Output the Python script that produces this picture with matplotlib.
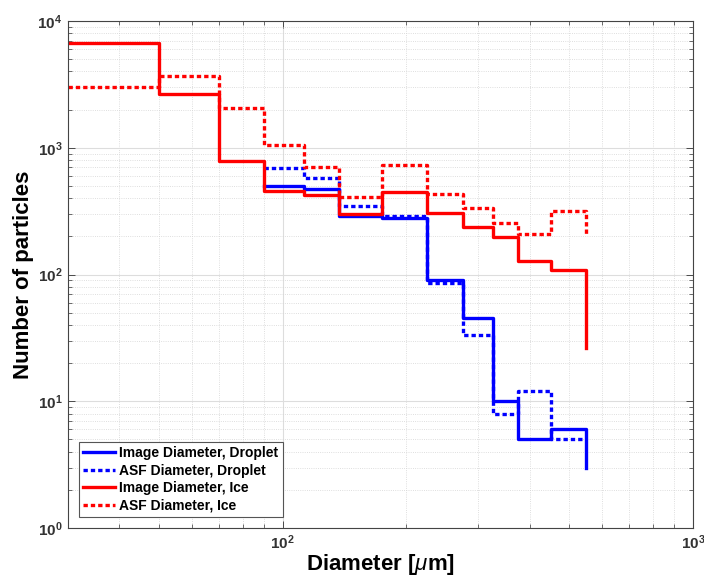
import numpy as np
import matplotlib
matplotlib.use("Agg")
import matplotlib.pyplot as plt
from matplotlib.ticker import LogLocator, FuncFormatter, NullFormatter

plt.rcParams['font.family'] = ['Liberation Sans', 'DejaVu Sans']
plt.rcParams['mathtext.fontset'] = 'custom'
plt.rcParams['mathtext.rm'] = 'Liberation Sans'
plt.rcParams['mathtext.bf'] = 'Liberation Sans:bold'
plt.rcParams['mathtext.it'] = 'Liberation Sans:italic'

# bin edges (um); last value of each series is the closing point of the stairs
ice_edges = [30, 50, 70, 90, 112.5, 137.5, 175, 225, 275, 325, 375, 450, 550]
drop_edges = [90, 112.5, 137.5, 175, 225, 275, 325, 375, 450, 550]

drop_image = [499, 472, 290, 280, 90, 45.5, 10, 5, 6, 3]
drop_asf = [687, 573, 347, 289, 85, 33.6, 8, 12, 5, 5]
ice_image = [6650, 2670, 790, 455, 423, 300, 450, 307, 239, 197, 128, 108, 26.5]
ice_asf = [3030, 3680, 2070, 1045, 704, 408, 730, 429, 332, 255, 208, 316, 202]

labels = ['Image Diameter, Droplet', 'ASF Diameter, Droplet',
          'Image Diameter, Ice', 'ASF Diameter, Ice']

fig = plt.figure(figsize=(7.04, 5.83), dpi=100)
ax = fig.add_axes([0.0966, 0.0943, 0.8878, 0.8697])

lw = 2.4
dots = (1.3, 0.9)
ax.step(drop_edges, drop_image, where='post', color='#0000ff', lw=lw, label=labels[0])
ax.step(drop_edges, drop_asf, where='post', color='#0000ff', lw=lw,
        linestyle=(0, dots), label=labels[1])
ax.step(ice_edges, ice_image, where='post', color='#ff0000', lw=lw, label=labels[2])
ax.step(ice_edges, ice_asf, where='post', color='#ff0000', lw=lw,
        linestyle=(0, dots), label=labels[3])

ax.set_xscale('log')
ax.set_yscale('log')
ax.set_xlim(30, 1000)
ax.set_ylim(1, 1e4)

fmt = FuncFormatter(lambda v, p: r'$\mathbf{10^{%d}}$' % round(np.log10(v)))
ax.xaxis.set_major_locator(LogLocator(base=10, numticks=10))
ax.yaxis.set_major_locator(LogLocator(base=10, numticks=10))
ax.xaxis.set_major_formatter(fmt)
ax.yaxis.set_major_formatter(fmt)
ax.xaxis.set_minor_locator(LogLocator(base=10, subs=np.arange(2, 10), numticks=20))
ax.yaxis.set_minor_locator(LogLocator(base=10, subs=np.arange(2, 10), numticks=20))
ax.xaxis.set_minor_formatter(NullFormatter())
ax.yaxis.set_minor_formatter(NullFormatter())

ax.tick_params(which='both', direction='in', top=True, right=True,
               colors='#333333', labelsize=11)
ax.tick_params(which='major', length=5, width=0.6)
ax.tick_params(which='minor', length=3, width=0.5)
ax.tick_params(axis='x', pad=4)
ax.tick_params(axis='y', pad=4)

ax.grid(True, which='major', color='#dddddd', lw=0.8, linestyle='-')
ax.grid(True, which='minor', color='#d4d4d4', lw=0.6, linestyle=':')
ax.set_axisbelow(True)
for s in ax.spines.values():
    s.set_color('#444444')
    s.set_linewidth(0.8)

ax.set_xlabel(r'Diameter [$\mu$m]', fontsize=16, fontweight='bold')
ax.xaxis.set_label_coords(0.5, -0.048)
ax.set_ylabel('Number of particles', fontsize=16, fontweight='bold')
ax.yaxis.set_label_coords(-0.055, 0.5)

leg = ax.legend(loc='lower left', prop={'weight': 'bold', 'size': 10},
                fancybox=False, framealpha=1, edgecolor='#555555',
                handlelength=2.3, handletextpad=0.3, borderpad=0.3,
                labelspacing=0.25, borderaxespad=0.8)
leg.get_frame().set_linewidth(0.8)

fig.savefig('out.png', dpi=100)
